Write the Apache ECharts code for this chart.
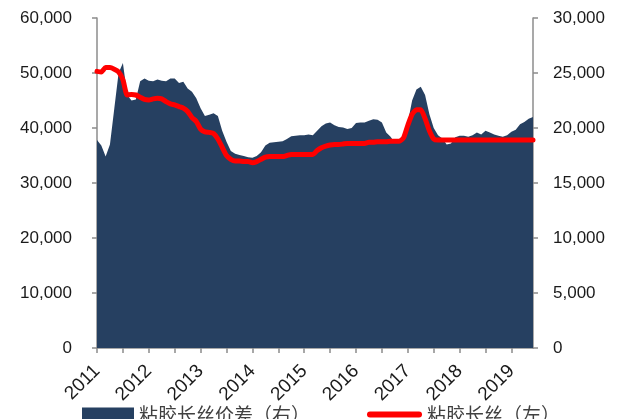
<!DOCTYPE html>
<html>
<head>
<meta charset="utf-8">
<script src="https://cdn.jsdelivr.net/npm/echarts@6/dist/echarts.min.js"></script>
<style>
html,body{margin:0;padding:0;background:#fff;}
#chart{width:624px;height:419px;}
</style>
</head>
<body>
<div id="chart"></div>
<script>
// Year labels (monthly categories from Jan 2011 to Jun 2019)
const yearLabels = ['2011','2012','2013','2014','2015','2016','2017','2018','2019'];
const lastYearMonths = 6;

// 粘胶长丝价差（右） - right axis values, monthly
const spreadValues = [
  18900,18400,17400,18500,21750,25000,25900,23000,22500,22600,24250,24500,
  24300,24250,24400,24300,24250,24500,24500,24100,24200,23600,23300,22700,
  21800,21100,21200,21350,21100,19750,18750,17900,17650,17550,17450,17350,
  17300,17450,17800,18400,18650,18700,18750,18800,19000,19250,19300,19350,
  19350,19400,19350,19750,20150,20400,20500,20250,20100,20050,19900,20000,
  20450,20500,20500,20650,20800,20750,20500,19600,19200,18650,18800,19250,
  20500,22500,23500,23750,23000,21250,20000,19350,19050,18500,18600,19150,
  19300,19300,19200,19350,19600,19400,19750,19600,19400,19300,19200,19350,
  19650,19850,20350,20550,20850,21000
];

// 粘胶长丝（左） - left axis values, monthly
const priceValues = [
  50300,50200,51000,51000,50700,50200,48800,46000,46100,46000,45600,45200,
  45100,45300,45400,45300,44800,44400,44200,43900,43600,43000,41900,41200,
  39800,39300,39200,39000,38000,36500,35000,34300,34000,34000,33900,33900,
  33700,33900,34300,34700,34800,34800,34800,34800,35000,35200,35200,35200,
  35200,35200,35200,35900,36400,36700,36900,37000,37000,37100,37200,37200,
  37200,37200,37200,37400,37400,37500,37500,37500,37600,37600,37600,38200,
  40500,42500,43300,43300,41700,39500,38000,37800,37800,37800,37800,37800,
  37800,37800,37800,37800,37800,37800,37800,37800,37800,37800,37800,37800,
  37800,37800,37800,37800,37800,37800
];

const seriesNames = ['粘胶长丝价差（右）','粘胶长丝（左）'];

const categories = [];
yearLabels.forEach((y, yi) => {
  const n = yi === yearLabels.length - 1 ? lastYearMonths : 12;
  for (let m = 1; m <= n; m++) categories.push(y + '-' + (m < 10 ? '0' + m : m));
});

const axisColor = '#8c8c8c';
const labelColor = '#1a1a1a';
const labelFont = 'Liberation Sans';
const areaColor = '#264061';
const lineColor = '#ff0000';

const chart = echarts.init(document.getElementById('chart'), null, {renderer: 'canvas'});
chart.setOption({
  animation: false,
  backgroundColor: '#fff',
  grid: {left: 97, right: 91, top: 18, bottom: 71, containLabel: false},
  legend: [
    {
      data: [{name: seriesNames[0], icon: 'rect'}],
      left: 77, top: 400,
      itemWidth: 52, itemHeight: 14,
      itemGap: 6,
      itemStyle: {color: areaColor},
      textStyle: {fontFamily: 'Noto Sans CJK SC', fontSize: 19, color: '#404040'}
    },
    {
      data: [{name: seriesNames[1], icon: 'path://M3,0 L52,0 A3,3 0 0 1 52,6 L3,6 A3,3 0 0 1 3,0 Z'}],
      left: 362, top: 400,
      itemWidth: 55, itemHeight: 6,
      itemGap: 6,
      itemStyle: {color: lineColor},
      textStyle: {fontFamily: 'Noto Sans CJK SC', fontSize: 19, color: '#404040'}
    }
  ],
  xAxis: {
    type: 'category',
    data: categories,
    boundaryGap: false,
    axisLine: {lineStyle: {color: axisColor, width: 1.5}},
    axisTick: {
      show: true, length: 5,
      interval: (i) => i % 6 === 0,
      lineStyle: {color: axisColor, width: 1.5}
    },
    axisLabel: {
      interval: (i) => i % 12 === 0,
      formatter: (v) => v.slice(0, 4),
      rotate: 45,
      margin: 20,
      fontFamily: labelFont,
      fontSize: 19,
      color: labelColor
    },
    splitLine: {show: false}
  },
  yAxis: [
    {
      type: 'value', min: 0, max: 60000, interval: 10000,
      axisLine: {show: true, lineStyle: {color: axisColor, width: 1.5}},
      axisTick: {show: true, length: 5, lineStyle: {color: axisColor, width: 1.5}},
      axisLabel: {
        margin: 25,
        fontFamily: labelFont, fontSize: 17, color: labelColor,
        formatter: (v) => v.toLocaleString('en-US')
      },
      splitLine: {show: false}
    },
    {
      type: 'value', min: 0, max: 30000, interval: 5000,
      position: 'right',
      axisLine: {show: true, lineStyle: {color: axisColor, width: 1.5}},
      axisTick: {show: true, length: 5, lineStyle: {color: axisColor, width: 1.5}},
      axisLabel: {
        margin: 20,
        fontFamily: labelFont, fontSize: 17, color: labelColor,
        formatter: (v) => v.toLocaleString('en-US')
      },
      splitLine: {show: false}
    }
  ],
  series: [
    {
      name: seriesNames[0],
      type: 'line',
      yAxisIndex: 1,
      data: spreadValues,
      symbol: 'none',
      lineStyle: {width: 0, color: areaColor},
      itemStyle: {color: areaColor},
      areaStyle: {color: areaColor, opacity: 1},
      z: 1
    },
    {
      name: seriesNames[1],
      type: 'line',
      yAxisIndex: 0,
      data: priceValues,
      symbol: 'none',
      smooth: 0.2,
      lineStyle: {width: 5, color: lineColor, cap: 'round', join: 'round'},
      itemStyle: {color: lineColor},
      z: 3
    }
  ]
});
</script>
</body>
</html>
